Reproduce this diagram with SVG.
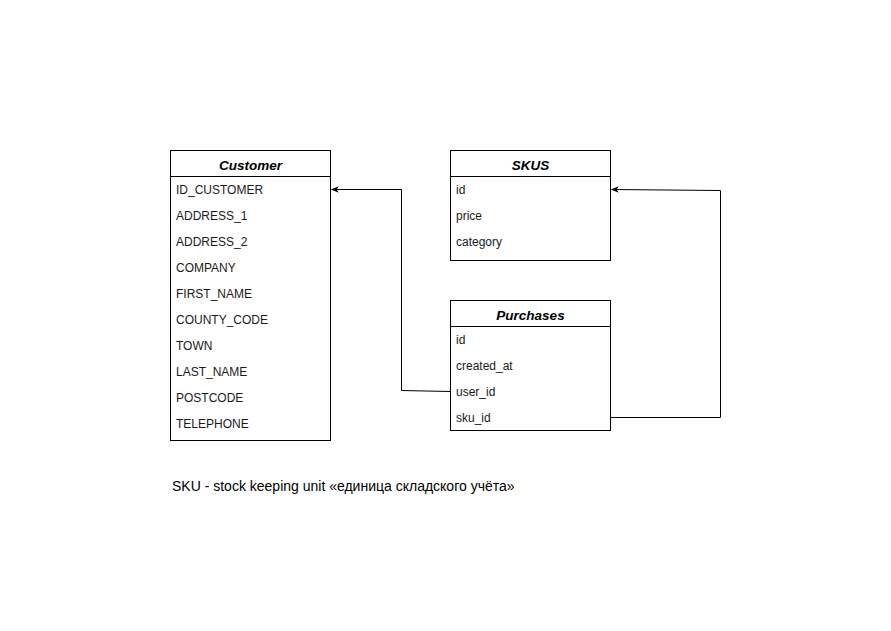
<svg xmlns="http://www.w3.org/2000/svg" width="891" height="631" viewBox="0 0 891 631">
<style>
.box{fill:#fff;stroke:#000;stroke-width:1}
.hd{font-family:"Liberation Sans",Arial,sans-serif;font-size:13.5px;font-weight:bold;font-style:italic;text-anchor:middle;fill:#000}
.row{font-family:"Liberation Sans",Arial,sans-serif;font-size:12px;fill:#1a1a1a}
.edge{fill:none;stroke:#000;stroke-width:1}
.cap{font-family:"Liberation Sans",Arial,sans-serif;font-size:14px;fill:#000}
</style>
<defs>
<marker id="arr" viewBox="0 0 10 10" refX="9" refY="5" markerWidth="8" markerHeight="8" markerUnits="userSpaceOnUse" orient="auto">
<path d="M0,1 L10,5 L0,9 L2.5,5 Z" fill="#000"/>
</marker>
</defs>
<rect width="891" height="631" fill="#fff"/>
<g id="customer">
<rect class="box" x="170.5" y="150.5" width="160" height="290"/>
<line class="edge" x1="170.5" y1="176.5" x2="330.5" y2="176.5"/>
<text class="hd" x="250.5" y="170">Customer</text>
<text class="row" x="176" y="193.5">ID_CUSTOMER</text>
<text class="row" x="176" y="219.5">ADDRESS_1</text>
<text class="row" x="176" y="245.5">ADDRESS_2</text>
<text class="row" x="176" y="271.5">COMPANY</text>
<text class="row" x="176" y="297.5">FIRST_NAME</text>
<text class="row" x="176" y="323.5">COUNTY_CODE</text>
<text class="row" x="176" y="349.5">TOWN</text>
<text class="row" x="176" y="375.5">LAST_NAME</text>
<text class="row" x="176" y="401.5">POSTCODE</text>
<text class="row" x="176" y="427.5">TELEPHONE</text>
</g>
<g id="skus">
<rect class="box" x="450.5" y="150.5" width="160" height="110"/>
<line class="edge" x1="450.5" y1="176.5" x2="610.5" y2="176.5"/>
<text class="hd" x="530.5" y="170">SKUS</text>
<text class="row" x="456" y="193.5">id</text>
<text class="row" x="456" y="219.5">price</text>
<text class="row" x="456" y="245.5">category</text>
</g>
<g id="purchases">
<rect class="box" x="450.5" y="300.5" width="160" height="130"/>
<line class="edge" x1="450.5" y1="326.5" x2="610.5" y2="326.5"/>
<text class="hd" x="530.5" y="320">Purchases</text>
<text class="row" x="456" y="343.5">id</text>
<text class="row" x="456" y="369.5">created_at</text>
<text class="row" x="456" y="395.5">user_id</text>
<text class="row" x="456" y="421.5">sku_id</text>
</g>
<g id="connectors">
<path class="edge" d="M450.5,391.5 L401.5,390.5 L401.5,189.5 L331.5,189.5" marker-end="url(#arr)"/>
<path class="edge" d="M610.5,417.5 L720.5,417.5 L720.5,190.5 L611.5,189.5" marker-end="url(#arr)"/>
</g>
<text id="caption" class="cap" x="172" y="490.5">SKU - stock keeping unit «единица складского учёта»</text>
</svg>
